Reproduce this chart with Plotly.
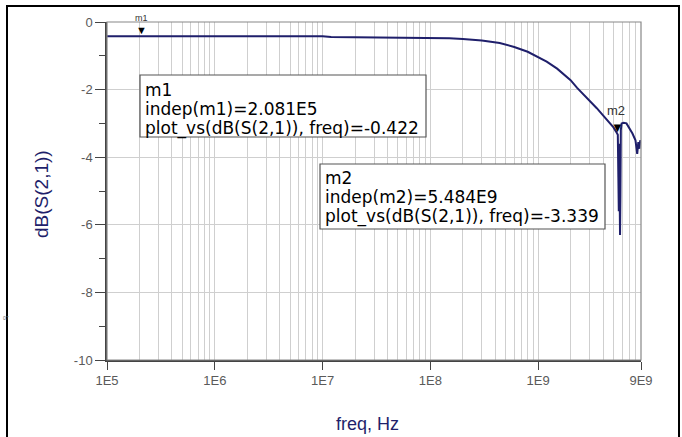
import math
import plotly.graph_objects as go

# ---- data ----
freq_hz = [1e5, 2.081e5, 1e6, 5e6, 1e7, 1.2e7, 3e7, 6e7, 1e8, 1.5e8, 2e8, 3e8, 4.4e8,
           6e8, 8e8, 1e9, 1.2e9, 1.5e9, 1.8e9, 2.0e9, 2.3e9, 2.6e9, 3.0e9, 3.5e9,
           4.0e9, 4.5e9, 5.0e9, 5.3e9, 5.484e9, 5.55e9, 5.6e9, 5.65e9, 5.7e9, 5.75e9,
           5.8e9, 5.85e9, 5.95e9, 6.2e9, 6.6e9, 7.0e9, 7.5e9, 8.0e9, 8.3e9, 8.5e9,
           8.7e9, 8.85e9, 9.0e9]
db_s21 = [-0.42, -0.422, -0.42, -0.42, -0.425, -0.445, -0.45, -0.455, -0.465, -0.48,
          -0.50, -0.55, -0.62, -0.74, -0.88, -1.04, -1.17, -1.38, -1.58, -1.72,
          -1.95, -2.12, -2.32, -2.55, -2.76, -2.95, -3.12, -3.25, -3.339, -4.6,
          -5.6, -3.6, -4.9, -6.3, -5.1, -3.2, -3.0, -2.98, -3.0, -3.12, -3.3,
          -3.5, -3.9, -3.55, -3.75, -3.5, -3.6]

marker_names = ["m1", "m2"]
marker_freq = [2.081e5, 5.484e9]
marker_db = [-0.422, -3.339]

x_tick_vals = [1e5, 1e6, 1e7, 1e8, 1e9, 9e9]
x_tick_text = ["1E5", "1E6", "1E7", "1E8", "1E9", "9E9"]
y_tick_vals = [0, -2, -4, -6, -8, -10]
y_tick_text = ["0", "-2", "-4", "-6", "-8", "-10"]
y_minor_vals = [-1, -3, -5, -7, -9]

x_title = "freq, Hz"
y_title = "dB(S(2,1))"

# ---- layout geometry (pixels) ----
W, H = 682, 437
PL, PR, PT, PB = 107, 641, 22, 360


def px(x):
    return (x - PL) / (PR - PL)


def py(y):
    return (PB - y) / (PB - PT)


NAVY = "#1f1f6b"
GRID = "#cfcfcf"
TICKTXT = "#5a5a5a"

# minor grid positions for the log axis (1..9 in each decade)
minor_grid = [m * 10 ** d for d in range(5, 10) for m in range(1, 10) if m * 10 ** d <= 9e9]

fig = go.Figure()
fig.add_trace(go.Scatter(x=freq_hz, y=db_s21, mode="lines",
                         line=dict(color=NAVY, width=2), hoverinfo="skip",
                         showlegend=False))

fig.update_layout(
    width=W, height=H,
    margin=dict(l=PL, r=W - PR, t=PT, b=H - PB),
    paper_bgcolor="white", plot_bgcolor="white",
    font=dict(family="Liberation Sans, Arial, sans-serif"),
    showlegend=False,
)

fig.update_xaxes(
    type="log", range=[5, math.log10(9e9)],
    tickmode="array", tickvals=x_tick_vals, ticktext=x_tick_text,
    ticks="outside", ticklen=8, tickcolor="#444", tickwidth=1,
    tickfont=dict(size=13, color=TICKTXT),
    showgrid=False,
    minor=dict(tickmode="array", tickvals=minor_grid, showgrid=True,
               gridcolor=GRID, gridwidth=1, ticks=""),
    showline=True, linecolor="#444", linewidth=1.5,
    zeroline=False,
)
fig.update_yaxes(
    range=[-10, 0],
    tickmode="array", tickvals=y_tick_vals, ticktext=y_tick_text,
    ticks="outside", ticklen=10, tickcolor="#444", tickwidth=1,
    tickfont=dict(size=13, color=TICKTXT),
    showgrid=True, gridcolor=GRID, gridwidth=1,
    minor=dict(tickmode="array", tickvals=y_minor_vals, ticks="outside",
               ticklen=6, tickcolor="#444", showgrid=False),
    showline=True, linecolor="#444", linewidth=1.5,
    zeroline=False,
)

# plot frame (top/right in gray)
fig.add_shape(type="rect", xref="paper", yref="paper", x0=0, x1=1, y0=0, y1=1,
              line=dict(color="#888", width=1.2), layer="above")
# outer black frame
fig.add_shape(type="rect", xref="paper", yref="paper", x0=px(7), x1=px(679),
              y0=py(470), y1=py(6), line=dict(color="black", width=2))

# axis titles
fig.add_annotation(text=x_title, xref="paper", yref="paper", x=px(367), y=py(424),
                   showarrow=False, font=dict(size=18, color=NAVY),
                   xanchor="center", yanchor="middle")
fig.add_annotation(text=y_title, xref="paper", yref="paper", x=px(42), y=py(194),
                   showarrow=False, font=dict(size=19, color=NAVY), textangle=-90,
                   xanchor="center", yanchor="middle")

# markers: triangle + name label
name_sizes = [9, 13]
tri_sizes = [11, 13]
name_yshift = [11, 15]
name_xshift = [0, -2]
for name, f, v, ns, ts, ys, xs in zip(marker_names, marker_freq, marker_db,
                                       name_sizes, tri_sizes, name_yshift, name_xshift):
    fig.add_annotation(x=math.log10(f), y=v, xref="x", yref="y", text="▼",
                       showarrow=False, font=dict(size=ts, color="black"),
                       yanchor="bottom", yshift=-2)
    fig.add_annotation(x=math.log10(f), y=v, xref="x", yref="y", text=name,
                       showarrow=False, font=dict(size=ns, color="#333"),
                       yanchor="bottom", yshift=ys, xshift=xs)


def fmt(v):
    mant, exp = f"{v:.3E}".split("E")
    return f"{mant}E{int(exp)}"


# marker readout boxes: (left, top, right, bottom) in pixels, then line centres
boxes = [(140, 75, 426, 137, [90, 109, 128]),
         (320, 164, 605, 229, [178, 197, 216])]
for (name, f, v), (x0, y0, x1, y1, lines_y) in zip(
        zip(marker_names, marker_freq, marker_db), boxes):
    fig.add_shape(type="rect", xref="paper", yref="paper",
                  x0=px(x0), x1=px(x1), y0=py(y1), y1=py(y0),
                  line=dict(color="#555", width=1.2), fillcolor="white",
                  layer="above")
    lines = [name, f"indep({name})={fmt(f)}",
             f"plot_vs(dB(S(2,1)), freq)={v:.3f}"]
    for t, ly in zip(lines, lines_y):
        fig.add_annotation(text=t, xref="paper", yref="paper", x=px(x0 + 3), y=py(ly),
                           xanchor="left", yanchor="middle", showarrow=False,
                           font=dict(size=17, color="black",
                                     family="DejaVu Sans, Arial, sans-serif"))

# tiny stray label at the left edge of the reference
fig.add_annotation(text="07", xref="paper", yref="paper", x=px(1), y=py(323),
                   xanchor="left", showarrow=False, font=dict(size=5, color="#666"))

fig.write_html("out.html", config={"displayModeBar": False},
               post_script="document.body.style.margin='0';")
